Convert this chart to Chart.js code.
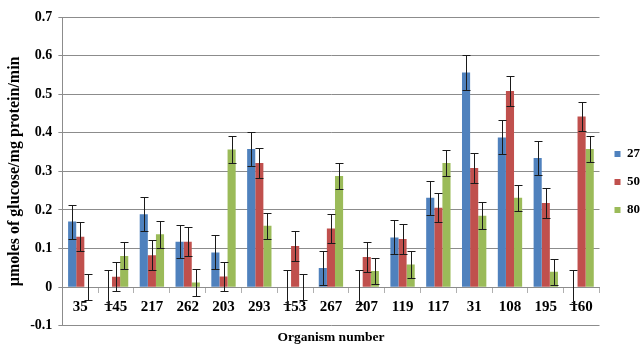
<!DOCTYPE html>
<html>
<head>
<meta charset="utf-8">
<script src="https://cdn.jsdelivr.net/npm/chart.js@4.4.1/dist/chart.umd.min.js"></script>
<style>
    html, body { margin: 0; padding: 0; background: #fff; }
    #wrap { width: 643px; height: 347px; position: relative; }
</style>
</head>
<body>
<div id="wrap"><canvas id="chart"></canvas></div>
<script>
const organisms = ["35", "145", "217", "262", "203", "293", "153", "267", "207", "119", "117", "31", "108", "195", "160"];

const temps = ["27", "50", "80"];

const values27 = [0.170, 0, 0.189, 0.118, 0.090, 0.358, 0, 0.050, 0, 0.129, 0.232, 0.556, 0.388, 0.335, 0];
const values50 = [0.131, 0.027, 0.083, 0.118, 0.028, 0.322, 0.107, 0.152, 0.078, 0.125, 0.206, 0.309, 0.508, 0.218, 0.442];
const values80 = [0, 0.081, 0.137, 0.012, 0.357, 0.159, 0, 0.288, 0.042, 0.059, 0.322, 0.185, 0.232, 0.040, 0.358];

const errors27 = [0.044, 0.044, 0.044, 0.043, 0.044, 0.044, 0.044, 0.044, 0.044, 0.044, 0.044, 0.045, 0.044, 0.044, 0.044];
const errors50 = [0.038, 0.037, 0.038, 0.038, 0.038, 0.038, 0.038, 0.038, 0.038, 0.038, 0.038, 0.038, 0.038, 0.038, 0.038];
const errors80 = [0.034, 0.035, 0.035, 0.034, 0.035, 0.034, 0.034, 0.034, 0.034, 0.034, 0.034, 0.035, 0.034, 0.034, 0.034];

const yTicks = [-0.1, 0, 0.1, 0.2, 0.3, 0.4, 0.5, 0.6, 0.7];

const colors = ["#4F81BD", "#C0504D", "#9BBB59"];

const serif = "'Liberation Serif', 'Times New Roman', serif";

// error bars drawn on top of the bars through the y scale
const errorBars = {
    id: "errorBars",
    afterDatasetsDraw(chart) {
        const ctx = chart.ctx;
        const yScale = chart.scales.y;
        ctx.save();
        ctx.strokeStyle = "#1a1a1a";
        ctx.lineWidth = 1;
        chart.data.datasets.forEach((ds, i) => {
            const meta = chart.getDatasetMeta(i);
            meta.data.forEach((bar, j) => {
                const v = ds.data[j];
                const e = ds.errors[j];
                const x = Math.round(bar.x) + 0.5;
                const yHi = Math.round(yScale.getPixelForValue(v + e)) + 0.5;
                const yLo = Math.round(yScale.getPixelForValue(v - e)) + 0.5;
                ctx.beginPath();
                ctx.moveTo(x, yHi);
                ctx.lineTo(x, yLo);
                ctx.moveTo(x - 4, yHi);
                ctx.lineTo(x + 4, yHi);
                ctx.moveTo(x - 4, yLo);
                ctx.lineTo(x + 4, yLo);
                ctx.stroke();
            });
        });
        ctx.restore();
    }
};

new Chart(
    document.getElementById("chart"),
    {
        type: "bar",

        data: {
            labels: organisms,
            datasets: [
                { label: temps[0], data: values27, errors: errors27, backgroundColor: colors[0], xAxisID: "x" },
                { label: temps[1], data: values50, errors: errors50, backgroundColor: colors[1], xAxisID: "x" },
                { label: temps[2], data: values80, errors: errors80, backgroundColor: colors[2], xAxisID: "x" }
            ]
        },

        options: {
            responsive: true,
            maintainAspectRatio: false,
            animation: false,
            categoryPercentage: 0.68,
            barPercentage: 1.0,
            layout: {
                padding: { top: 17, right: -7, left: 5, bottom: 0 }
            },
            plugins: {
                tooltip: { enabled: false },
                legend: {
                    position: "right",
                    labels: {
                        boxWidth: 6,
                        boxHeight: 6,
                        padding: 15,
                        color: "#000",
                        font: { family: serif, size: 13, weight: "bold" }
                    }
                }
            },
            scales: {
                x: {
                    type: "category",
                    position: { y: 0 },
                    offset: true,
                    grid: {
                        display: true,
                        offset: true,
                        drawOnChartArea: false,
                        drawTicks: true,
                        tickLength: 5,
                        color: "#b0b0b0"
                    },
                    border: { display: true, color: "#8c8c8c" },
                    ticks: {
                        color: "#000",
                        padding: 6,
                        maxRotation: 0,
                        autoSkip: false,
                        font: { family: serif, size: 15, weight: "bold" }
                    }
                },
                x2: {
                    type: "category",
                    position: "bottom",
                    grid: { display: false, drawTicks: false },
                    border: { display: false },
                    ticks: { display: false },
                    title: {
                        display: true,
                        text: "Organism number",
                        color: "#000",
                        padding: { top: 4, bottom: 1 },
                        font: { family: serif, size: 13.5, weight: "bold" }
                    }
                },
                y: {
                    min: -0.1,
                    max: 0.7,
                    afterBuildTicks(scale) {
                        scale.ticks = yTicks.map(v => ({ value: v }));
                    },
                    grid: {
                        color: "#8c8c8c",
                        tickLength: 4
                    },
                    border: { display: true, color: "#8c8c8c" },
                    ticks: {
                        color: "#000",
                        padding: 6,
                        font: { family: serif, size: 14, weight: "bold" },
                        callback: v => String(Math.round(v * 10) / 10)
                    },
                    title: {
                        display: true,
                        text: "µmoles of glucose/mg protein/min",
                        color: "#000",
                        padding: { top: 0, bottom: 0 },
                        font: { family: serif, size: 16, weight: "bold" }
                    }
                }
            }
        },

        plugins: [errorBars]
    }
);
</script>
</body>
</html>
